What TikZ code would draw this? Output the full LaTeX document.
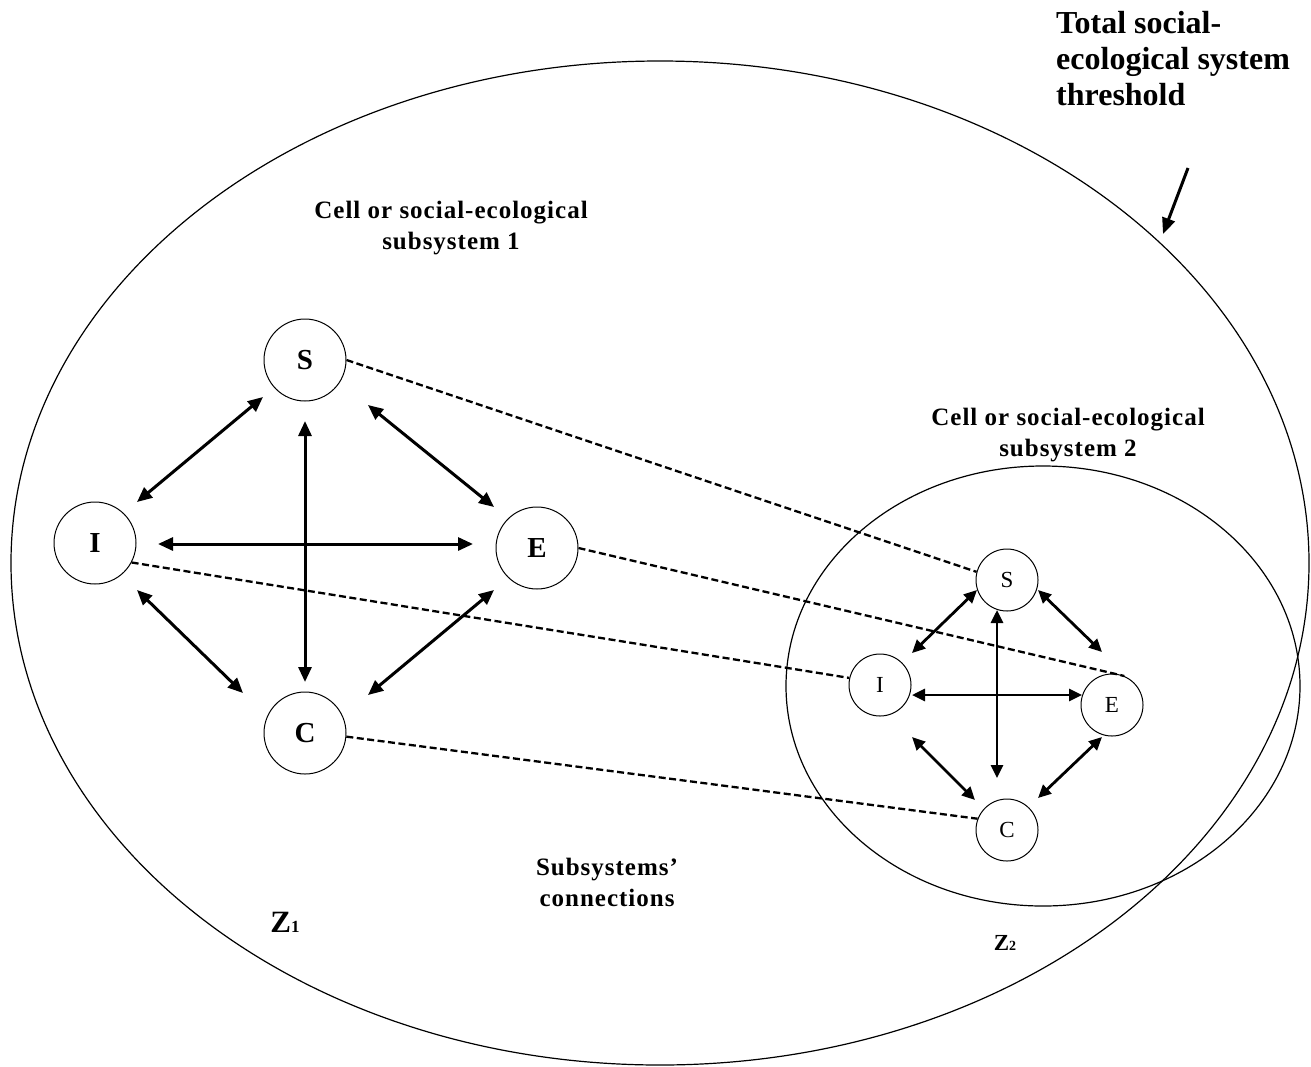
\documentclass[tikz,border=0pt]{standalone}
\usepackage{fontspec}
\setmainfont{Liberation Serif}
\usetikzlibrary{arrows.meta,calc,shapes.geometric}
\begin{document}
\begin{tikzpicture}[x=1pt,y=-1pt,
  big/.style={circle,draw,line width=1pt,minimum size=82pt,inner sep=0pt,font=\fontsize{29}{30}\selectfont\bfseries},
  small/.style={circle,draw,line width=1pt,minimum size=62pt,inner sep=0pt,font=\fontsize{23}{24}\selectfont},
  dbl/.style={line width=3pt,{Triangle[length=15pt,width=13pt]}-{Triangle[length=15pt,width=13pt]}},
  dbls/.style={line width=2.8pt,{Triangle[length=13pt,width=12pt]}-{Triangle[length=13pt,width=12pt]}},
  link/.style={line width=2.3pt,dash pattern=on 7pt off 3.5pt},
  lbl/.style={align=center,inner sep=0pt,font=\fontsize{25}{31}\selectfont\bfseries\addfontfeature{LetterSpace=4}}]
\useasboundingbox (0,0) rectangle (1311,1066);
% outer threshold ellipse
\node[draw,ellipse,line width=1.2pt,minimum width=1298pt,minimum height=1004pt,inner sep=0pt] (outer) at (660,563) {};
% subsystem 2 boundary
\node[draw,ellipse,line width=1.2pt,minimum width=514pt,minimum height=440pt,inner sep=0pt] (sub2) at (1043,686) {};
% subsystem 1 nodes
\node[big] (S1) at (305,360) {S};
\node[big] (I1) at (95,543) {I};
\node[big] (E1) at (537,548) {E};
\node[big] (C1) at (305,733) {C};
% subsystem 2 nodes
\node[small] (S2) at (1007,580) {S};
\node[small] (I2) at (880,685) {I};
\node[small] (E2) at (1112,705) {E};
\node[small] (C2) at (1007,830) {C};
% arrows subsystem 1
\draw[dbl] ($(S1)+(-42,37)$) -- ($(I1)+(42,-41)$);
\draw[dbl] ($(S1)+(63,45)$) -- ($(E1)+(-43,-41)$);
\draw[dbl] ($(I1)+(63,1)$) -- ($(E1)+(-64,-4)$);
\draw[dbl] ($(S1)+(0,61)$) -- ($(C1)+(0,-51)$);
\draw[dbl] ($(I1)+(42,47)$) -- ($(C1)+(-62,-40)$);
\draw[dbl] ($(E1)+(-43,42)$) -- ($(C1)+(63,-38)$);
% arrows subsystem 2
\draw[dbls] ($(S2)+(-30,10)$) -- ($(I2)+(32,-32)$);
\draw[dbls] ($(S2)+(31,10)$) -- ($(E2)+(-10,-53)$);
\draw[dbls] ($(S2)+(-10,30)$) -- ($(C2)+(-10,-52)$);
\draw[dbls] ($(I2)+(32,10)$) -- ($(E2)+(-30,-10)$);
\draw[dbls] ($(I2)+(32,52)$) -- ($(C2)+(-32,-30)$);
\draw[dbls] ($(E2)+(-10,32)$) -- ($(C2)+(31,-32)$);
% subsystem connections
\draw[link] (S1.east) -- (S2.165);
\draw[link] (I1.-28) -- (I2.167);
\draw[link] (E1.east) -- (E2.67);
\draw[link] (C1.-5) -- (C2.159);
% labels
\node[anchor=north west,align=left,inner sep=0pt,font=\fontsize{32}{36}\selectfont\bfseries] (title) at (1056,11) {Total social-\\ecological system\\threshold};
\coordinate (tip) at (1163,234);
\draw[line width=3pt,-{Triangle[length=16pt,width=13pt]}] (1188,168) -- (tip);
\node[lbl] (lab1) at (451,228) {Cell or social-ecological\\subsystem 1};
\node[lbl] (lab2) at (1068,435) {Cell or social-ecological\\subsystem 2};
\node[lbl] (lab3) at (607,882) {Subsystems'\\connections};
\node[inner sep=0pt,font=\fontsize{31}{32}\selectfont\bfseries] (z1) at (285,922) {Z\fontsize{17}{18}\selectfont 1};
\node[inner sep=0pt,font=\fontsize{23}{24}\selectfont\bfseries] (z2) at (1005,943) {Z\fontsize{14}{16}\selectfont 2};
\end{tikzpicture}
\end{document}
